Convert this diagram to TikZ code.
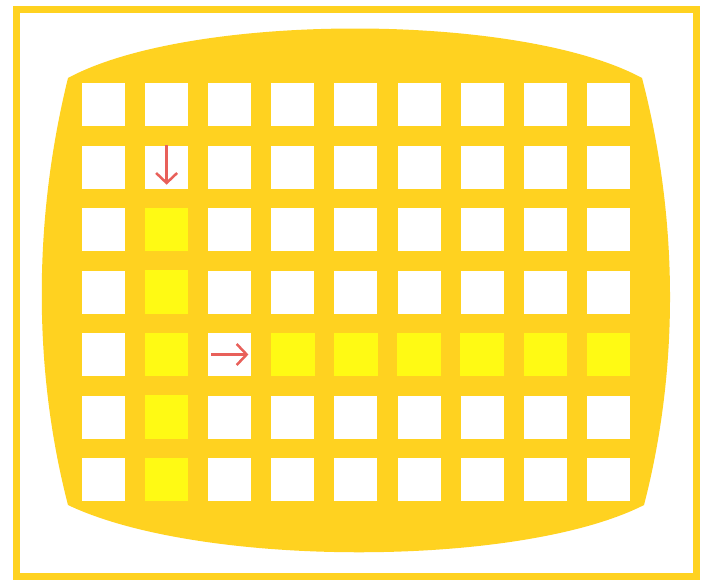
\documentclass[tikz,border=0pt]{standalone}
\usepackage{tikz}
\usetikzlibrary{arrows.meta,positioning}
\usepackage{xcolor}
\definecolor{screengold}{RGB}{255,210,32}
\definecolor{hilite}{RGB}{255,250,20}
\definecolor{arrowred}{RGB}{232,96,90}

\begin{document}
\begin{tikzpicture}[x=1pt,y=-1pt,
    cell/.style={fill=white, inner sep=0pt, minimum width=43pt, minimum height=43pt},
    redarrow/.style={arrowred, line width=2.5pt, -{Straight Barb[length=10pt,width=21pt,line width=2.5pt]}}]
    \useasboundingbox (0,0) rectangle (711,581);

    % Outer frame
    \draw[screengold, line width=7pt] (16,9) rectangle (696,576);

    % Screen
    \fill[screengold] (68,78) .. controls (190,12) and (520,12) .. (642,78)
        .. controls (679,220) and (679,370) .. (644,505)
        .. controls (520,568) and (200,568) .. (68,505)
        .. controls (33,370) and (33,220) .. cycle;

    % Grid of cells
    \foreach \c in {1,...,9}
        \foreach \r in {1,...,7}
            \node[cell] (c\c r\r) at ({103.5+63.1*(\c-1)},{104.5+62.5*(\r-1)}) {};

    % Lit cells
    \foreach \p in {c2r3,c2r4,c2r5,c2r6,c2r7,c4r5,c5r5,c6r5,c7r5,c8r5,c9r5}
        \fill[hilite] (\p.south west) rectangle (\p.north east);

    % Arrows
    \draw[redarrow] (c2r2.north) -- ([yshift=4pt]c2r2.south);
    \draw[redarrow] ([xshift=3pt]c3r5.west) -- ([xshift=-3pt]c3r5.east);
\end{tikzpicture}
\end{document}
